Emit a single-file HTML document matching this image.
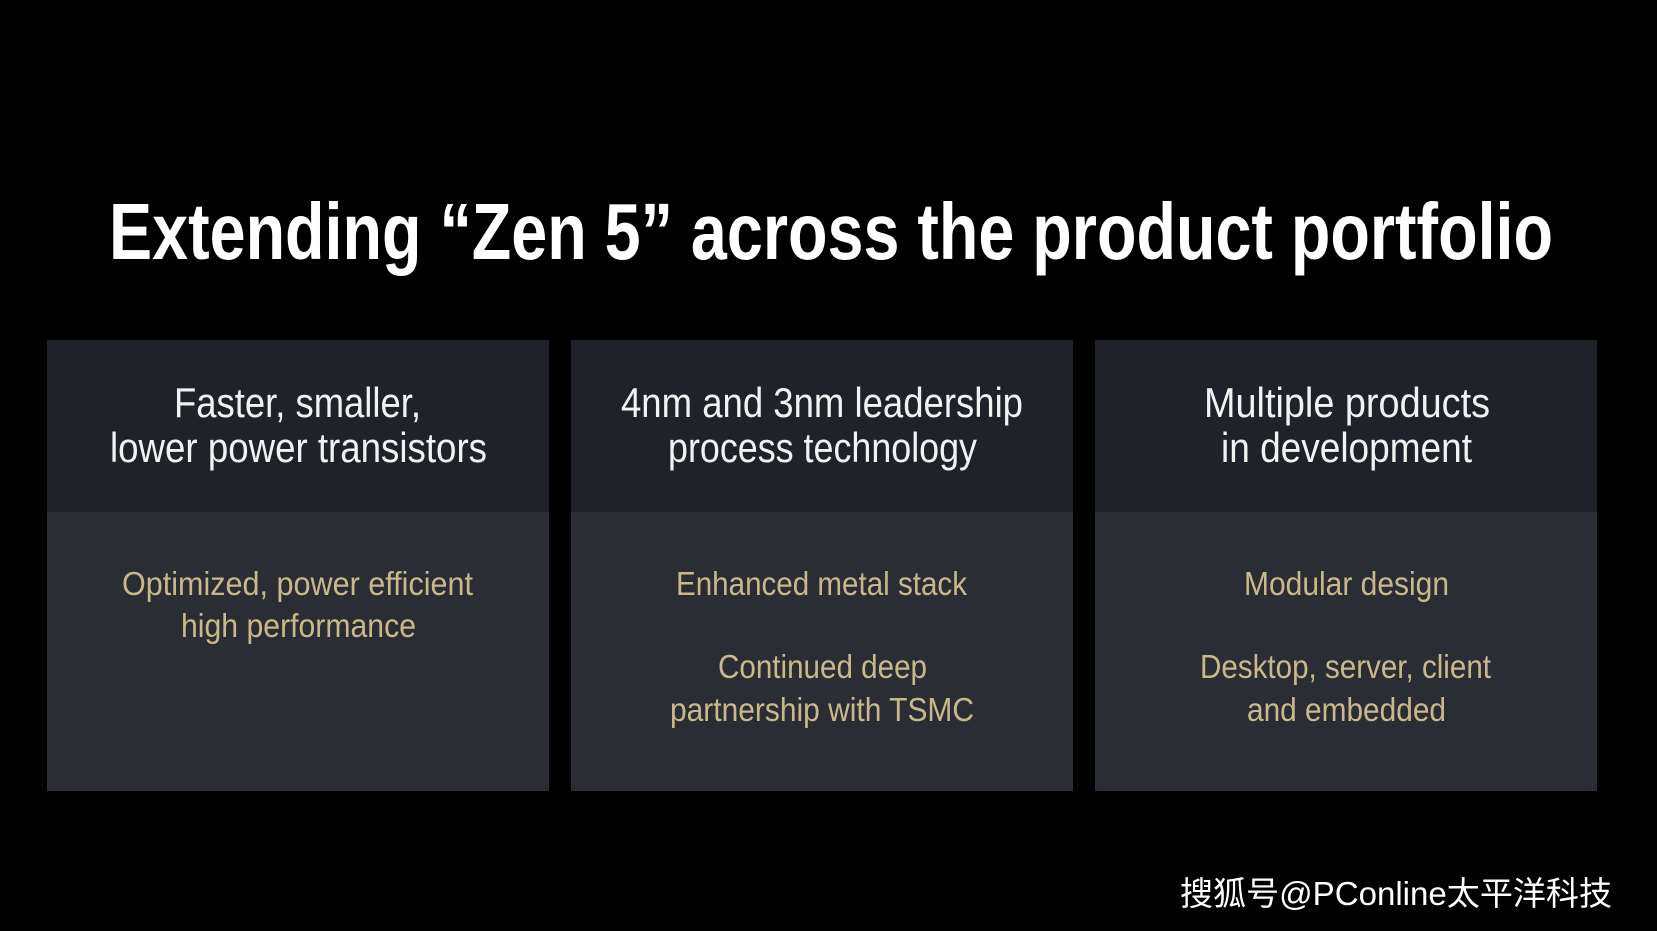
<!DOCTYPE html>
<html><head><meta charset="utf-8"><style>
html,body{margin:0;padding:0;background:#000;}
svg{display:block}
.h{font-family:"Liberation Sans",sans-serif;fill:#f2f2f2;font-size:42px;}
.g{font-family:"Liberation Sans",sans-serif;fill:#c9b98a;font-size:33px;}
</style></head><body>
<svg width="1657" height="931" viewBox="0 0 1657 931" xmlns="http://www.w3.org/2000/svg">
<rect width="1657" height="931" fill="#000"/>
<text x="831" y="259" text-anchor="middle" textLength="1444" lengthAdjust="spacingAndGlyphs" font-family="Liberation Sans, sans-serif" font-weight="bold" font-size="80" fill="#fff">Extending “Zen 5” across the product portfolio</text>

<rect x="47" y="340" width="502" height="172" fill="#1f2229"/>
<rect x="47" y="512" width="502" height="279" fill="#2a2d34"/>
<rect x="571" y="340" width="502" height="172" fill="#1f2229"/>
<rect x="571" y="512" width="502" height="279" fill="#2a2d34"/>
<rect x="1095" y="340" width="502" height="172" fill="#1f2229"/>
<rect x="1095" y="512" width="502" height="279" fill="#2a2d34"/>

<text class="h" x="297.5" y="417" text-anchor="middle" textLength="247" lengthAdjust="spacingAndGlyphs">Faster, smaller,</text>
<text class="h" x="298.5" y="462" text-anchor="middle" textLength="377" lengthAdjust="spacingAndGlyphs">lower power transistors</text>
<text class="h" x="822" y="417" text-anchor="middle" textLength="402" lengthAdjust="spacingAndGlyphs">4nm and 3nm leadership</text>
<text class="h" x="822.5" y="462" text-anchor="middle" textLength="309" lengthAdjust="spacingAndGlyphs">process technology</text>
<text class="h" x="1347" y="417" text-anchor="middle" textLength="286" lengthAdjust="spacingAndGlyphs">Multiple products</text>
<text class="h" x="1346.5" y="462" text-anchor="middle" textLength="251" lengthAdjust="spacingAndGlyphs">in development</text>

<text class="g" x="297.5" y="595" text-anchor="middle" textLength="351" lengthAdjust="spacingAndGlyphs">Optimized, power efficient</text>
<text class="g" x="298.5" y="637" text-anchor="middle" textLength="235" lengthAdjust="spacingAndGlyphs">high performance</text>
<text class="g" x="821.5" y="595" text-anchor="middle" textLength="291" lengthAdjust="spacingAndGlyphs">Enhanced metal stack</text>
<text class="g" x="822.5" y="678" text-anchor="middle" textLength="209" lengthAdjust="spacingAndGlyphs">Continued deep</text>
<text class="g" x="822" y="721" text-anchor="middle" textLength="304" lengthAdjust="spacingAndGlyphs">partnership with TSMC</text>
<text class="g" x="1346.5" y="595" text-anchor="middle" textLength="205" lengthAdjust="spacingAndGlyphs">Modular design</text>
<text class="g" x="1345.5" y="678" text-anchor="middle" textLength="291" lengthAdjust="spacingAndGlyphs">Desktop, server, client</text>
<text class="g" x="1346.5" y="721" text-anchor="middle" textLength="199" lengthAdjust="spacingAndGlyphs">and embedded</text>

<text x="1180" y="905" textLength="432" lengthAdjust="spacingAndGlyphs" font-family="Liberation Sans, Noto Sans CJK SC, sans-serif" font-size="33" fill="#fff">搜狐号@PConline太平洋科技</text>
</svg>
</body></html>
